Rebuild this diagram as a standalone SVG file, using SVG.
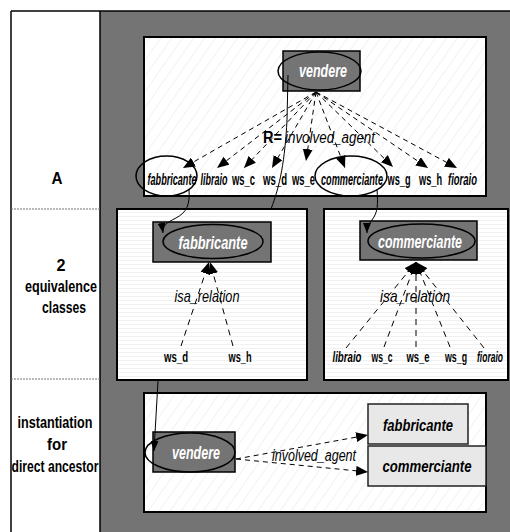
<svg xmlns="http://www.w3.org/2000/svg" width="510" height="532" viewBox="0 0 510 532">
<defs>
  <pattern id="diag" patternUnits="userSpaceOnUse" width="9" height="9" patternTransform="rotate(35)">
    <rect width="9" height="9" fill="#ffffff"/>
    <line x1="0" y1="0" x2="0" y2="9" stroke="#e6e6e6" stroke-width="1"/>
  </pattern>
  <pattern id="horiz" patternUnits="userSpaceOnUse" width="8" height="4">
    <rect width="8" height="4" fill="#ffffff"/>
    <line x1="0" y1="0.5" x2="8" y2="0.5" stroke="#f1f1f1" stroke-width="1"/>
  </pattern>
  <marker id="ah" markerUnits="userSpaceOnUse" markerWidth="12" markerHeight="10" viewBox="0 0 12 10" refX="12" refY="5" orient="auto">
    <path d="M0,0 L12,5 L0,10 z" fill="#000"/>
  </marker>
  <marker id="ahs" markerUnits="userSpaceOnUse" markerWidth="10" markerHeight="8" viewBox="0 0 10 8" refX="10" refY="4" orient="auto">
    <path d="M0,0 L10,4 L0,8 z" fill="#000"/>
  </marker>
</defs>
<style>
  .panel { stroke:#000; stroke-width:2; }
  .gbox { fill:#747474; stroke:#000; stroke-width:1.5; }
  .ell { fill:none; stroke:#000; stroke-width:1.5; }
  .lbox { fill:#e8e8e8; stroke:#222; stroke-width:1.5; }
  .t { font-family:"Liberation Sans", Arial, sans-serif; }
  .b { font-weight:bold; }
  .i { font-style:italic; }
  .w { fill:#ffffff; }
  .k { fill:#000; }
  .dash { fill:none; stroke:#000; stroke-width:1; stroke-dasharray:5,4; }
  .dash2 { fill:none; stroke:#000; stroke-width:1; stroke-dasharray:6,5; }
  .solid { fill:none; stroke:#000; stroke-width:1; }
  .sep { stroke:#777; stroke-width:1; stroke-dasharray:2,1; }
</style>

<!-- background -->
<rect x="100" y="11" width="410" height="521" fill="#747474"/>
<rect x="11" y="11" width="89" height="521" fill="#ffffff"/>
<line x1="11" y1="11" x2="510" y2="11" stroke="#000" stroke-width="1.5"/>
<line x1="11" y1="11" x2="11" y2="532" stroke="#000" stroke-width="1.5"/>
<line x1="100" y1="11" x2="100" y2="532" stroke="#000" stroke-width="1.5"/>
<line class="sep" x1="11" y1="209" x2="100" y2="209"/>
<line class="sep" x1="11" y1="379" x2="100" y2="379"/>

<g id="row-labels">
  <text class="t b" x="57" y="184" font-size="17" text-anchor="middle" textLength="11" lengthAdjust="spacingAndGlyphs">A</text>
  <text class="t b" x="61" y="271" font-size="17" text-anchor="middle" textLength="9" lengthAdjust="spacingAndGlyphs">2</text>
  <text class="t b" x="61" y="292" font-size="17" text-anchor="middle" textLength="72" lengthAdjust="spacingAndGlyphs">equivalence</text>
  <text class="t b" x="64" y="313" font-size="17" text-anchor="middle" textLength="44" lengthAdjust="spacingAndGlyphs">classes</text>
  <text class="t b" x="55" y="428" font-size="17" text-anchor="middle" textLength="75" lengthAdjust="spacingAndGlyphs">instantiation</text>
  <text class="t b" x="57" y="450" font-size="17" text-anchor="middle" textLength="20" lengthAdjust="spacingAndGlyphs">for</text>
  <text class="t b" x="55" y="472" font-size="17" text-anchor="middle" textLength="87" lengthAdjust="spacingAndGlyphs">direct ancestor</text>
</g>

<!-- panels -->
<g id="panel-A">
  <rect class="panel" x="144" y="37" width="342" height="159" fill="url(#diag)"/>
</g>
<g id="panel-instantiation">
  <rect class="panel" x="144" y="393" width="342" height="119" fill="url(#diag)"/>
</g>
<g id="panel-fabbricante-class">
  <rect class="panel" x="117" y="209" width="190" height="171" fill="url(#horiz)"/>
</g>
<g id="panel-commerciante-class">
  <rect class="panel" x="324" y="209" width="184" height="171" fill="url(#horiz)"/>
</g>

<!-- nodes: top panel -->
<g id="vendere-top">
  <rect class="gbox" x="283" y="51" width="77" height="40"/>
  <ellipse class="ell" cx="319.5" cy="71" rx="41.5" ry="19"/>
  <text class="t b i w" x="323" y="77" font-size="18" text-anchor="middle" textLength="48" lengthAdjust="spacingAndGlyphs">vendere</text>
</g>
<g id="fabbricante-top">
  <ellipse class="ell" cx="166.5" cy="176" rx="30.5" ry="20"/>
  <text class="t b i k" x="172" y="185" font-size="16" text-anchor="middle" textLength="49" lengthAdjust="spacingAndGlyphs">fabbricante</text>
</g>
<g id="libraio-top"><text class="t b i k" x="214" y="185" font-size="16" text-anchor="middle" textLength="27" lengthAdjust="spacingAndGlyphs">libraio</text></g>
<g id="ws_c-top"><text class="t b k" x="243.5" y="185" font-size="16" text-anchor="middle" textLength="23" lengthAdjust="spacingAndGlyphs">ws_c</text></g>
<g id="ws_d-top"><text class="t b k" x="275" y="185" font-size="16" text-anchor="middle" textLength="24" lengthAdjust="spacingAndGlyphs">ws_d</text></g>
<g id="ws_e-top"><text class="t b k" x="303.5" y="185" font-size="16" text-anchor="middle" textLength="23" lengthAdjust="spacingAndGlyphs">ws_e</text></g>
<g id="commerciante-top">
  <ellipse class="ell" cx="351" cy="176" rx="36" ry="20"/>
  <text class="t b i k" x="352" y="185" font-size="16" text-anchor="middle" textLength="62" lengthAdjust="spacingAndGlyphs">commerciante</text>
</g>
<g id="ws_g-top"><text class="t b k" x="399" y="185" font-size="16" text-anchor="middle" textLength="23" lengthAdjust="spacingAndGlyphs">ws_g</text></g>
<g id="ws_h-top"><text class="t b k" x="430.5" y="185" font-size="16" text-anchor="middle" textLength="23" lengthAdjust="spacingAndGlyphs">ws_h</text></g>
<g id="fioraio-top"><text class="t b i k" x="462.5" y="185" font-size="16" text-anchor="middle" textLength="29" lengthAdjust="spacingAndGlyphs">fioraio</text></g>

<!-- nodes: middle panels -->
<g id="fabbricante-class">
  <rect class="gbox" x="153" y="222" width="118" height="40"/>
  <ellipse class="ell" cx="213" cy="241.5" rx="50" ry="17"/>
  <text class="t b i w" x="213" y="249" font-size="18" text-anchor="middle" textLength="69" lengthAdjust="spacingAndGlyphs">fabbricante</text>
</g>
<g id="ws_d-mid"><text class="t b k" x="176" y="362" font-size="15" text-anchor="middle" textLength="24" lengthAdjust="spacingAndGlyphs">ws_d</text></g>
<g id="ws_h-mid"><text class="t b k" x="240" y="362" font-size="15" text-anchor="middle" textLength="23" lengthAdjust="spacingAndGlyphs">ws_h</text></g>

<g id="commerciante-class">
  <rect class="gbox" x="360" y="221" width="117" height="39"/>
  <ellipse class="ell" cx="421.5" cy="241" rx="53.5" ry="17"/>
  <text class="t b i w" x="420" y="248" font-size="18" text-anchor="middle" textLength="84" lengthAdjust="spacingAndGlyphs">commerciante</text>
</g>
<g id="libraio-mid"><text class="t b i k" x="347" y="362" font-size="15" text-anchor="middle" textLength="29" lengthAdjust="spacingAndGlyphs">libraio</text></g>
<g id="ws_c-mid"><text class="t b k" x="382" y="362" font-size="15" text-anchor="middle" textLength="21" lengthAdjust="spacingAndGlyphs">ws_c</text></g>
<g id="ws_e-mid"><text class="t b k" x="418" y="362" font-size="15" text-anchor="middle" textLength="23" lengthAdjust="spacingAndGlyphs">ws_e</text></g>
<g id="ws_g-mid"><text class="t b k" x="456" y="362" font-size="15" text-anchor="middle" textLength="22" lengthAdjust="spacingAndGlyphs">ws_g</text></g>
<g id="fioraio-mid"><text class="t b i k" x="490" y="362" font-size="15" text-anchor="middle" textLength="26" lengthAdjust="spacingAndGlyphs">fioraio</text></g>

<!-- nodes: bottom panel -->
<g id="vendere-inst">
  <rect class="gbox" x="153" y="432" width="82" height="40"/>
  <ellipse class="ell" cx="190" cy="452.5" rx="45" ry="19.5"/>
  <text class="t b i w" x="196" y="459" font-size="18" text-anchor="middle" textLength="48" lengthAdjust="spacingAndGlyphs">vendere</text>
</g>
<g id="fabbricante-inst">
  <rect class="lbox" x="368" y="404" width="100" height="40"/>
  <text class="t b i k" x="418" y="431" font-size="17" text-anchor="middle" textLength="70" lengthAdjust="spacingAndGlyphs">fabbricante</text>
</g>
<g id="commerciante-inst">
  <rect class="lbox" x="368" y="446" width="118" height="40"/>
  <text class="t b i k" x="427" y="472" font-size="17" text-anchor="middle" textLength="89" lengthAdjust="spacingAndGlyphs">commerciante</text>
</g>

<!-- connectors -->
<g id="connectors">
  <!-- fan from vendere (R = involved_agent) -->
  <line class="dash" x1="316" y1="92" x2="183" y2="168" marker-end="url(#ah)"/>
  <line class="dash" x1="316" y1="92" x2="217" y2="168" marker-end="url(#ah)"/>
  <line class="dash" x1="316" y1="92" x2="244" y2="168" marker-end="url(#ah)"/>
  <line class="dash" x1="316" y1="92" x2="272" y2="168" marker-end="url(#ah)"/>
  <line class="dash" x1="316" y1="92" x2="306" y2="161" marker-end="url(#ah)"/>
  <line class="dash" x1="316" y1="92" x2="345" y2="168" marker-end="url(#ah)"/>
  <line class="dash" x1="316" y1="92" x2="393" y2="167" marker-end="url(#ah)"/>
  <line class="dash" x1="316" y1="92" x2="428" y2="168" marker-end="url(#ah)"/>
  <line class="dash" x1="316" y1="92" x2="457" y2="168" marker-end="url(#ah)"/>
  <text class="t b k" x="263" y="143" font-size="16" textLength="19" lengthAdjust="spacingAndGlyphs">R=</text>
  <text class="t i k" x="285" y="143" font-size="16" textLength="90" lengthAdjust="spacingAndGlyphs">involved_agent</text>

  <!-- links to equivalence classes -->
  <path class="solid" d="M189,189 C190,205 187,212 176,218 C166,223 162,226 163,233" marker-end="url(#ahs)"/>
  <path class="solid" d="M377,189 C378,205 378,212 372,220 C368,225 367,228 367,233" marker-end="url(#ahs)"/>

  <!-- vendere to instantiation (passes behind middle panel) -->
  <path class="solid" d="M288,75 L287,120 C285,160 280,186 271,209"/>
  <path class="solid" d="M158,381 L154,451" marker-end="url(#ahs)"/>

  <!-- isa_relation: fabbricante -->
  <line class="dash2" x1="181" y1="346" x2="209" y2="262" marker-end="url(#ah)"/>
  <line class="dash2" x1="233" y1="346" x2="210" y2="262" marker-end="url(#ah)"/>
  <text class="t i k" x="207" y="302" font-size="17" text-anchor="middle" textLength="65" lengthAdjust="spacingAndGlyphs">isa_relation</text>

  <!-- isa_relation: commerciante -->
  <line class="dash2" x1="346" y1="348" x2="416" y2="262" marker-end="url(#ah)"/>
  <line class="dash2" x1="384" y1="347" x2="416" y2="262" marker-end="url(#ah)"/>
  <line class="dash2" x1="416" y1="347" x2="416" y2="262" marker-end="url(#ah)"/>
  <line class="dash2" x1="450" y1="347" x2="416" y2="262" marker-end="url(#ah)"/>
  <line class="dash2" x1="484" y1="348" x2="416" y2="262" marker-end="url(#ah)"/>
  <text class="t i k" x="415" y="302" font-size="17" text-anchor="middle" textLength="70" lengthAdjust="spacingAndGlyphs">isa_relation</text>

  <!-- instantiation -->
  <line class="dash" x1="236" y1="459" x2="368" y2="435" marker-end="url(#ah)"/>
  <line class="dash" x1="236" y1="459" x2="368" y2="472" marker-end="url(#ah)"/>
  <text class="t i k" x="272" y="461" font-size="16" textLength="84" lengthAdjust="spacingAndGlyphs">involved_agent</text>
</g>
</svg>
